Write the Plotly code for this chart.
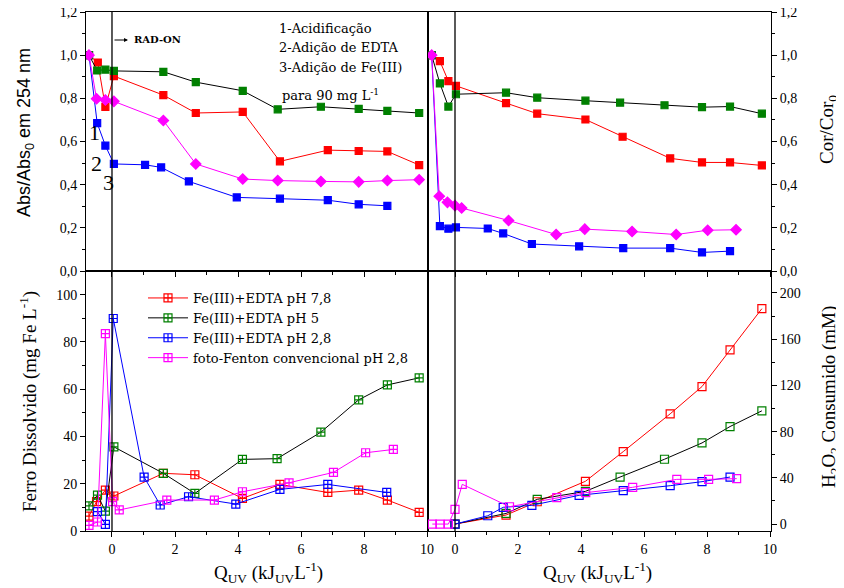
import plotly.graph_objects as go

# ---------------- DATA ----------------
# Top-left: Abs/Abs0 at 254 nm
abs_q_red = [-0.73, -0.45, -0.21, 0.06, 1.63, 2.66, 4.15, 5.33, 6.85, 7.83, 8.74, 9.75]
abs_red = [1.0, 0.966, 0.760, 0.903, 0.815, 0.732, 0.737, 0.508, 0.560, 0.556, 0.554, 0.491]
abs_q_green = [-0.73, -0.47, -0.21, 0.06, 1.63, 2.66, 4.15, 5.26, 6.63, 7.83, 8.74, 9.75]
abs_green = [1.0, 0.929, 0.933, 0.927, 0.923, 0.875, 0.835, 0.749, 0.761, 0.751, 0.742, 0.732]
abs_q_blue = [-0.73, -0.47, -0.21, 0.06, 1.05, 1.56, 2.44, 3.96, 5.33, 6.85, 7.83, 8.74]
abs_blue = [1.0, 0.685, 0.581, 0.496, 0.492, 0.480, 0.415, 0.341, 0.335, 0.328, 0.309, 0.302]
abs_q_mag = [-0.73, -0.49, -0.21, 0.06, 1.63, 2.66, 4.15, 5.26, 6.63, 7.83, 8.74, 9.75]
abs_mag = [1.0, 0.798, 0.792, 0.786, 0.697, 0.496, 0.426, 0.419, 0.415, 0.413, 0.419, 0.423]

# Top-right: Cor/Cor0
cor_q_red = [-0.74, -0.48, -0.21, 0.03, 1.62, 2.61, 4.14, 5.32, 6.83, 7.84, 8.73, 9.74]
cor_red = [1.0, 0.972, 0.880, 0.858, 0.778, 0.729, 0.702, 0.622, 0.522, 0.503, 0.503, 0.489]
cor_q_green = [-0.74, -0.48, -0.21, 0.03, 1.62, 2.61, 4.14, 5.24, 6.65, 7.84, 8.73, 9.74]
cor_green = [1.0, 0.869, 0.762, 0.819, 0.826, 0.803, 0.789, 0.780, 0.768, 0.759, 0.762, 0.729]
cor_q_blue = [-0.74, -0.48, -0.21, 0.03, 1.04, 1.53, 2.44, 3.94, 5.34, 6.83, 7.84, 8.73]
cor_blue = [1.0, 0.208, 0.196, 0.202, 0.197, 0.174, 0.125, 0.114, 0.106, 0.106, 0.086, 0.092]
cor_q_mag = [-0.74, -0.50, -0.24, 0.0, 0.21, 1.70, 3.21, 4.12, 5.62, 7.02, 8.02, 8.92]
cor_mag = [1.0, 0.346, 0.318, 0.303, 0.292, 0.234, 0.169, 0.194, 0.183, 0.169, 0.189, 0.191]

# Bottom-left: Ferro dissolvido (mg Fe/L)
fe_q_red = [-0.73, -0.49, -0.21, 0.06, 1.63, 2.63, 4.14, 5.33, 6.85, 7.83, 8.74, 9.75]
fe_red = [6.3, 12.4, 17.3, 14.8, 24.4, 23.8, 13.8, 19.7, 16.3, 17.3, 13.1, 7.9]
fe_q_green = [-0.73, -0.46, -0.21, 0.06, 1.63, 2.63, 4.14, 5.24, 6.63, 7.83, 8.74, 9.75]
fe_green = [10.6, 15.2, 8.4, 35.6, 24.4, 15.9, 30.3, 30.6, 41.8, 55.5, 61.8, 64.8]
fe_q_blue = [-0.46, -0.21, 0.04, 1.02, 1.53, 2.43, 3.93, 5.33, 6.85, 8.72]
fe_blue = [8.2, 2.8, 89.9, 22.8, 11.0, 14.5, 11.4, 17.6, 19.7, 16.3]
fe_q_mag = [-0.73, -0.46, -0.21, 0.02, 0.23, 1.74, 3.25, 4.14, 5.62, 7.03, 8.05, 8.93]
fe_mag = [2.4, 3.8, 83.5, 12.4, 8.9, 13.1, 13.1, 16.6, 20.4, 24.8, 33.1, 34.5]

# Bottom-right: H2O2 consumido (mM)
h2_q_red = [0.0, 1.62, 2.61, 4.14, 5.34, 6.83, 7.84, 8.73, 9.74]
h2_red = [0.0, 7.8, 19.3, 37.0, 62.7, 95.4, 119.0, 150.8, 186.4]
h2_q_green = [0.0, 1.62, 2.61, 4.14, 5.24, 6.65, 7.84, 8.73, 9.74]
h2_green = [0.0, 9.2, 21.4, 28.3, 40.7, 56.1, 70.2, 84.4, 98.0]
h2_q_blue = [0.0, 1.04, 1.53, 2.44, 3.94, 5.34, 6.83, 7.84, 8.73]
h2_blue = [0.0, 7.2, 14.5, 16.2, 24.9, 28.9, 33.2, 36.7, 40.7]
h2_q_mag = [-0.72, -0.48, -0.21, 0.0, 0.23, 1.73, 3.23, 4.15, 5.64, 7.04, 8.05, 8.94]
h2_mag = [0.0, 0.0, 0.0, 12.7, 34.4, 15.0, 22.8, 27.2, 31.8, 38.7, 38.7, 39.3]

series_names = ["Fe(III)+EDTA pH 7,8", "Fe(III)+EDTA pH 5",
                "Fe(III)+EDTA pH 2,8", "foto-Fenton convencional pH 2,8"]
RAD_ON_Q = 0.0

# ---------------- STYLE ----------------
RED, GREEN, BLUE, MAG = "#FF0000", "#008000", "#0000FF", "#FF00FF"
W, H = 844, 588
OFF = 8  # page body margin offset
def px(x): return (x - OFF) / W
def py(y): return 1 - (y - OFF) / H

XL = [px(86), px(428)]
XR = [px(428), px(771)]
YT = [py(271), py(12)]
YB = [py(531), py(271)]

fig = go.Figure()

def add(xs, ys, xa, ya, line_c, mark_c, symbol, size, name=None, legend=False, lw=1.0):
    fig.add_trace(go.Scatter(
        x=xs, y=ys, xaxis=xa, yaxis=ya, mode="lines+markers",
        line=dict(color=line_c, width=lw),
        marker=dict(symbol=symbol, size=size, color=mark_c,
                    line=dict(color=mark_c, width=1.2)),
        name=name, showlegend=legend))

# top-left
add(abs_q_red, abs_red, "x", "y", RED, RED, "square", 7)
add(abs_q_blue, abs_blue, "x", "y", BLUE, BLUE, "square", 7)
add(abs_q_green, abs_green, "x", "y", "black", GREEN, "square", 7)
add(abs_q_mag, abs_mag, "x", "y", MAG, MAG, "diamond", 8)
# top-right
add(cor_q_red, cor_red, "x2", "y2", RED, RED, "square", 7)
add(cor_q_blue, cor_blue, "x2", "y2", BLUE, BLUE, "square", 7)
add(cor_q_green, cor_green, "x2", "y2", "black", GREEN, "square", 7)
add(cor_q_mag, cor_mag, "x2", "y2", MAG, MAG, "diamond", 8)
# bottom-left (legend)
add(fe_q_red, fe_red, "x3", "y3", RED, RED, "square-cross-open", 8, series_names[0], True)
add(fe_q_green, fe_green, "x3", "y3", "black", GREEN, "square-cross-open", 8, series_names[1], True)
add(fe_q_blue, fe_blue, "x3", "y3", BLUE, BLUE, "square-cross-open", 8, series_names[2], True)
add(fe_q_mag, fe_mag, "x3", "y3", MAG, MAG, "square-cross-open", 8, series_names[3], True)
# bottom-right
add(h2_q_red, h2_red, "x4", "y4", RED, RED, "square-open", 8)
add(h2_q_green, h2_green, "x4", "y4", "black", GREEN, "square-open", 8)
add(h2_q_blue, h2_blue, "x4", "y4", BLUE, BLUE, "square-open", 8)
add(h2_q_mag, h2_mag, "x4", "y4", MAG, MAG, "square-open", 8)

tickfont = dict(family="Liberation Serif", size=14, color="black")
common = dict(showgrid=False, zeroline=False, showline=True, linecolor="black",
              linewidth=1, mirror=True, ticks="outside", ticklen=5, tickcolor="black",
              tickfont=tickfont, automargin=False, ticklabeloverflow="allow")

def xax(domain, rng, anchor, labels):
    return dict(common, domain=domain, range=rng, anchor=anchor, dtick=2, tick0=0,
                showticklabels=labels,
                minor=dict(dtick=1, ticks="outside", ticklen=3, tickcolor="black"))

fig.update_layout(
    template="none",
    width=W, height=H, margin=dict(l=0, r=0, t=0, b=0, pad=0, autoexpand=False),
    paper_bgcolor="white", plot_bgcolor="white", separators=",.",
    xaxis=xax(XL, [-0.825, 10.03], "y", False),
    xaxis2=xax(XR, [-0.857, 10.03], "y2", False),
    xaxis3=xax(XL, [-0.825, 10.03], "y3", True),
    xaxis4=xax(XR, [-0.857, 10.03], "y4", True),
    yaxis=dict(common, domain=YT, range=[0, 1.2], anchor="x", dtick=0.2, tickformat=".1f",
               minor=dict(dtick=0.1, ticks="outside", ticklen=3, tickcolor="black")),
    yaxis2=dict(common, domain=YT, range=[0, 1.2], anchor="x2", side="right", dtick=0.2,
                tickformat=".1f",
                minor=dict(dtick=0.1, ticks="outside", ticklen=3, tickcolor="black")),
    yaxis3=dict(common, domain=YB, range=[0, 110], anchor="x3", tickvals=[0, 20, 40, 60, 80, 100],
                minor=dict(dtick=10, ticks="outside", ticklen=3, tickcolor="black")),
    yaxis4=dict(common, domain=YB, range=[-6, 219], anchor="x4", side="right",
                tickvals=[0, 40, 80, 120, 160, 200],
                minor=dict(tickvals=[20, 60, 100, 140, 180], ticks="outside", ticklen=3,
                           tickcolor="black")),
    legend=dict(x=px(143), y=py(283), xanchor="left", yanchor="top",
                bgcolor="rgba(0,0,0,0)", borderwidth=0,
                font=dict(family="DejaVu Serif", size=13, color="black"),
                itemwidth=40, tracegroupgap=0),
    showlegend=True,
)

# RAD-ON reference lines
for xr in ("x", "x2"):
    fig.add_shape(type="line", xref=xr, yref="paper", x0=RAD_ON_Q, x1=RAD_ON_Q,
                  y0=YB[0], y1=YT[1], line=dict(color="black", width=1.3))

ann = []
serif = "Liberation Serif"
# axis titles
ann.append(dict(text="Abs/Abs<sub>0</sub> em 254 nm", x=px(26), y=py(133), textangle=-90,
                font=dict(family="Liberation Sans", size=18, color="black")))
ann.append(dict(text="Ferro Dissolvido (mg Fe L<sup>-1</sup>)", x=px(28), y=py(402), textangle=-90,
                font=dict(family=serif, size=19, color="black")))
ann.append(dict(text="Cor/Cor<sub>0</sub>", x=px(828), y=py(130), textangle=-90,
                font=dict(family=serif, size=19, color="black")))
ann.append(dict(text="H<sub>2</sub>O<sub>2</sub> Consumido (mM)", x=px(830), y=py(397), textangle=-90,
                font=dict(family=serif, size=19, color="black")))
for cx in (268, 597):
    ann.append(dict(text="Q<sub>UV</sub> (kJ<sub>UV</sub>L<sup>-1</sup>)", x=px(cx), y=py(572),
                    font=dict(family=serif, size=19, color="black")))
# step notes
note_font = dict(family="DejaVu Serif", size=13, color="black")
for t, yy in (("1-Acidificação", 28), ("2-Adição de EDTA", 48), ("3-Adição de Fe(III)", 67)):
    ann.append(dict(text=t, x=px(277), y=py(yy), xanchor="left", font=note_font))
ann.append(dict(text="para 90 mg L<sup>-1</sup>", x=px(280), y=py(95), xanchor="left", font=note_font))
# big step numbers
for t, xx, yy in (("1", 94, 132), ("2", 96, 163), ("3", 108, 182)):
    ann.append(dict(text=t, x=px(xx), y=py(yy), font=dict(family=serif, size=22, color="black")))
# RAD-ON
ann.append(dict(text="", x=px(128), y=py(40), ax=-15, ay=0, showarrow=True, arrowhead=2,
                arrowsize=0.8, arrowwidth=1, arrowcolor="black"))
ann.append(dict(text="<b>RAD-ON</b>", x=px(132), y=py(40), xanchor="left",
                font=dict(family="DejaVu Serif", size=10, color="black")))

for a in ann:
    a.setdefault("xref", "paper")
    a.setdefault("yref", "paper")
    a.setdefault("showarrow", False)
    a.setdefault("xanchor", "center")
    a.setdefault("yanchor", "middle")
    fig.add_annotation(**a)

fig.write_html("out.html")
